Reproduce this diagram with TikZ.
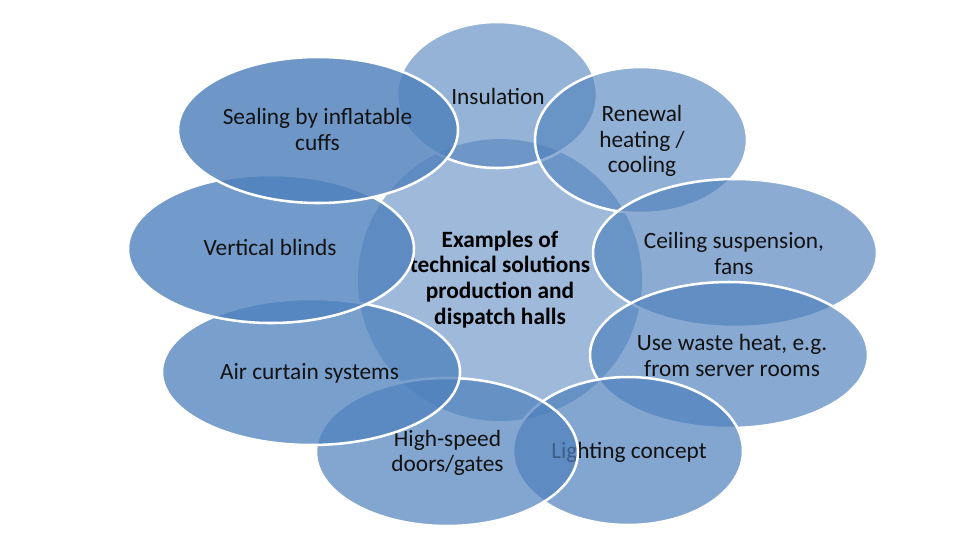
\documentclass[tikz,border=0pt]{standalone}
\usepackage{fontspec}
\setmainfont{Carlito}
\usetikzlibrary{shapes.geometric}
\definecolor{petal}{RGB}{79,129,189}
\definecolor{ink}{RGB}{18,18,18}
\tikzset{
  petalshape/.style={ellipse, inner sep=0pt, fill=petal, draw=white, line width=1.9pt},
  hubshape/.style={ellipse, inner sep=0pt, fill=petal, draw=none},
  lbl/.style={align=center, text=ink, inner sep=0pt, font=\fontsize{17.5}{19.3}\selectfont},
  hublbl/.style={align=center, text=black, inner sep=0pt, font=\bfseries\fontsize{17.5}{19.3}\selectfont}
}
\begin{document}
\begin{tikzpicture}[x=0.75pt,y=-0.75pt]
\useasboundingbox[fill=white] (0,0) rectangle (960,540);
% hub
\node[hubshape, fill opacity=0.55, minimum width=213pt, minimum height=211.5pt] (hub) at (500,280) {};
\begin{scope}
\clip (409,200) rectangle (620,340);
\node[hublbl] (hubtext) at (500,279.5) {Examples of\\technical solutions\\production and\\dispatch halls};
\end{scope}
% surrounding ellipses, clockwise from top
\node[petalshape, fill opacity=0.60, minimum width=150pt, minimum height=109.5pt] (ins) at (497,95) {};
\node[lbl] (inst) at (498,96) {Insulation};
\node[petalshape, fill opacity=0.62, minimum width=159pt, minimum height=109.5pt] (ren) at (641,140) {};
\node[lbl] (rent) at (642,141) {Renewal\\heating /\\cooling};
\node[petalshape, fill opacity=0.66, minimum width=213pt, minimum height=111pt] (ceil) at (735,253) {};
\node[lbl] (ceilt) at (734,253.5) {Ceiling suspension,\\fans};
\node[petalshape, fill opacity=0.68, minimum width=208.5pt, minimum height=109.5pt] (waste) at (729,355) {};
\node[lbl] (wastet) at (732,355.5) {Use waste heat, e.g.\\from server rooms};
\node[petalshape, fill opacity=0.70, minimum width=172.5pt, minimum height=111pt] (light) at (628,451) {};
\node[lbl] (lightt) at (629,452) {Lighting concept};
\node[petalshape, fill opacity=0.70, minimum width=196.5pt, minimum height=111pt] (door) at (447,452) {};
\node[lbl] (doort) at (447.5,453) {High-speed\\doors/gates};
\node[petalshape, fill opacity=0.76, minimum width=223.5pt, minimum height=109.5pt] (air) at (311,372) {};
\node[lbl] (airt) at (309.5,373) {Air curtain systems};
\node[petalshape, fill opacity=0.80, minimum width=214.5pt, minimum height=111pt] (blind) at (271,249) {};
\node[lbl] (blindt) at (270,247) {Vertical blinds};
\node[petalshape, fill opacity=0.82, minimum width=210pt, minimum height=109.5pt] (seal) at (318,130) {};
\node[lbl] (sealt) at (317.5,129.5) {Sealing by inflatable\\cuffs};
\end{tikzpicture}
\end{document}
